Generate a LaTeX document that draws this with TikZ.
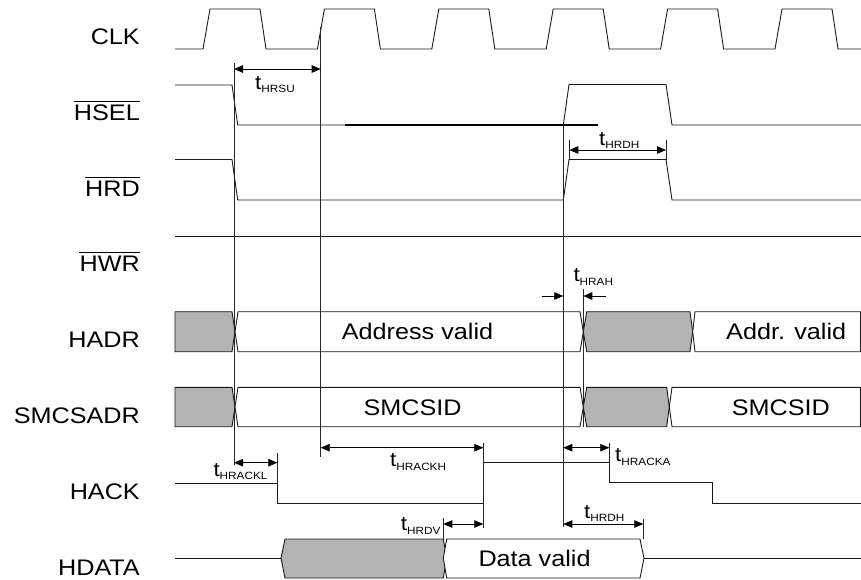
\documentclass[tikz,border=0pt]{standalone}
\usepackage{fontspec}
\setmainfont[FakeStretch=1.12]{Liberation Sans}
\usetikzlibrary{arrows.meta}
\definecolor{boxgray}{RGB}{179,179,179}
\newcommand{\tsub}[1]{{\fontsize{20}{20}\selectfont t}\raisebox{-3.5pt}{\fontsize{10.5}{11}\selectfont #1}}
\tikzset{
 wave/.style={line width=0.9pt, draw=black!90, line join=miter},
 guide/.style={line width=0.8pt, draw=black!85},
 dim/.style={line width=0.8pt, {Triangle[length=9pt,width=7.5pt]}-{Triangle[length=9pt,width=7.5pt]}},
 sarrow/.style={line width=0.8pt, -{Triangle[length=9pt,width=7.5pt]}},
 siglabel/.style={anchor=base east, inner sep=0pt, font=\fontsize{22.5}{26}\selectfont},
 boxtext/.style={anchor=base west, inner sep=0pt, font=\fontsize{22.5}{26}\selectfont},
 tlabel/.style={anchor=base west, inner sep=0pt},
 graybus/.style={wave, fill=boxgray},
 whitebus/.style={wave, fill=white},
 bar/.style={line width=0.8pt}
}
\begin{document}
\begin{tikzpicture}[x=1pt,y=-1pt]
\useasboundingbox (0,0) rectangle (861,579);

% ---------- signal names ----------
\node[siglabel] (lclk)  at (140,44)    {CLK};
\node[siglabel] (lhsel) at (140,120)   {HSEL};
\node[siglabel] (lhrd)  at (140,196)   {HRD};
\node[siglabel] (lhwr)  at (140,271)   {HWR};
\node[siglabel] (lhadr) at (140,347.7) {HADR};
\node[siglabel] (lsmc)  at (140,423.3) {SMCSADR};
\node[siglabel] (lhack) at (140,499.3) {HACK};
\node[siglabel] (lhdat) at (140,575)   {HDATA};
\draw[bar] ([yshift=2.5pt]lhsel.north west) -- ([yshift=2.5pt]lhsel.north east);
\draw[bar] ([yshift=2.5pt]lhrd.north west) -- ([yshift=2.5pt]lhrd.north east);
\draw[bar] ([yshift=2.5pt]lhwr.north west) -- ([yshift=2.5pt]lhwr.north east);

% ---------- CLK ----------
\draw[wave] (175,49) -- (203,49) -- (210,9) -- (260,9) -- (266,49)
 -- (317.4,49) -- (324.4,9) -- (374.4,9) -- (380.4,49)
 -- (431.8,49) -- (438.8,9) -- (488.8,9) -- (494.8,49)
 -- (546.2,49) -- (553.2,9) -- (603.2,9) -- (609.2,49)
 -- (660.6,49) -- (667.6,9) -- (717.6,9) -- (723.6,49)
 -- (775,49) -- (782,9) -- (832,9) -- (838,49) -- (861,49);

% ---------- HSEL ----------
\draw[wave] (175,85) -- (232,85) -- (237.7,125) -- (563.3,125) -- (569,84.5)
 -- (666,84.5) -- (672,125) -- (861,125);
\draw[line width=1.4pt] (345,125) -- (598,125);

% ---------- HRD ----------
\draw[wave] (175,159.5) -- (232,159.5) -- (237.7,200) -- (563.3,200) -- (569,159.5)
 -- (666,159.5) -- (672,200) -- (861,200);

% ---------- HWR ----------
\draw[wave] (175,236) -- (861,236);

% ---------- HADR ----------
\draw[graybus] (175,311.7) -- (232,311.7) -- (235,331.7) -- (232,351.7) -- (175,351.7) -- cycle;
\draw[whitebus] (238,311.7) -- (580,311.7) -- (583.3,331.7) -- (580,351.7) -- (238,351.7) -- (235,331.7) -- cycle;
\draw[graybus] (586.7,311.7) -- (690,311.7) -- (692.7,331.7) -- (690,351.7) -- (586.7,351.7) -- (583.3,331.7) -- cycle;
\draw[whitebus] (695,311.7) -- (860.5,311.7) -- (860.5,351.7) -- (695,351.7) -- (692.7,331.7) -- cycle;
\node[boxtext] (tadr1) at (341.7,339) {Address valid};
\node[boxtext] (tadr2) at (726,339) {Addr. valid};

% ---------- SMCSADR ----------
\draw[graybus] (175,387.3) -- (232,387.3) -- (235,407) -- (232,426.7) -- (175,426.7) -- cycle;
\draw[whitebus] (238,387.3) -- (580,387.3) -- (583.3,407) -- (580,426.7) -- (238,426.7) -- (235,407) -- cycle;
\draw[graybus] (586.7,387.3) -- (666.7,387.3) -- (669.3,407) -- (666.7,426.7) -- (586.7,426.7) -- (583.3,407) -- cycle;
\draw[whitebus] (672,387.3) -- (860.5,387.3) -- (860.5,426.7) -- (672,426.7) -- (669.3,407) -- cycle;
\node[boxtext] (tsmc1) at (363.3,415) {SMCSID};
\node[boxtext] (tsmc2) at (731.7,415) {SMCSID};

% ---------- HACK ----------
\draw[wave] (175,483.3) -- (277.3,483.3) -- (277.3,503.3) -- (483.3,503.3) -- (483.3,462.7)
 -- (609.3,462.7) -- (609.3,482.7) -- (712.3,482.7) -- (712.3,503.3) -- (861,503.3);

% ---------- HDATA ----------
\draw[wave] (175,558.3) -- (281,558.3);
\draw[graybus] (285,539) -- (443.3,539) -- (446.7,558.3) -- (443.3,578) -- (285,578) -- (281,558.3) -- cycle;
\draw[whitebus] (446.7,539) -- (640,539) -- (644,558.3) -- (640,578) -- (446.7,578) -- (443.3,558.3) -- cycle;
\draw[wave] (644,558.3) -- (861,558.3);
\node[boxtext] (tdat) at (478.3,566.7) {Data valid};

% ---------- guide lines ----------
\coordinate (g1t) at (234,63);    \coordinate (g1b) at (234,465);
\coordinate (g2t) at (320.7,27);  \coordinate (g2b) at (320.7,457);
\coordinate (g3t) at (563.3,125); \coordinate (g3b) at (563.3,527);
\coordinate (g4t) at (583.3,289); \coordinate (g4b) at (583.3,426.7);
\coordinate (g5t) at (483.3,443); \coordinate (g5b) at (483.3,528);
\coordinate (g6t) at (569.3,140); \coordinate (g6b) at (569.3,159.5);
\coordinate (g7t) at (666,140);   \coordinate (g7b) at (666,159.5);
\coordinate (g8t) at (277.3,453); \coordinate (g8b) at (277.3,483.3);
\coordinate (g9t) at (609.3,442.7); \coordinate (g9b) at (609.3,462.7);
\coordinate (g10t) at (443.3,518); \coordinate (g10b) at (443.3,539);
\coordinate (g11t) at (643.3,519); \coordinate (g11b) at (643.3,539);
\foreach \g in {1,...,11} \draw[guide] (g\g t) -- (g\g b);

% ---------- timing arrows ----------
\coordinate (a1) at (234,69);     \coordinate (b1) at (320.7,69);
\coordinate (a2) at (569.3,150);  \coordinate (b2) at (666,150);
\coordinate (a3) at (234,462.7);  \coordinate (b3) at (277.3,462.7);
\coordinate (a4) at (320.7,447.7); \coordinate (b4) at (483.3,447.7);
\coordinate (a5) at (443.3,524);  \coordinate (b5) at (483.3,524);
\coordinate (a6) at (563.3,447.7); \coordinate (b6) at (609.3,447.7);
\coordinate (a7) at (563.3,524);  \coordinate (b7) at (643.3,524);
\foreach \g in {1,...,7} \draw[dim] (a\g) -- (b\g);
\coordinate (h1) at (541.7,296);  \coordinate (h2) at (606,296);
\draw[sarrow] (h1) -- (g3t |- h1);
\draw[sarrow] (h2) -- (g4t |- h2);

% ---------- timing labels ----------
\node[tlabel] (lhrsu)  at (255,89)     {\tsub{HRSU}};
\node[tlabel] (lhrdh1) at (599,145)    {\tsub{HRDH}};
\node[tlabel] (lhrah)  at (573.3,281.7) {\tsub{HRAH}};
\node[tlabel] (lhrackl) at (213.3,476) {\tsub{HRACKL}};
\node[tlabel] (lhrackh) at (390,466.7) {\tsub{HRACKH}};
\node[tlabel] (lhrdv)  at (400.7,530.7) {\tsub{HRDV}};
\node[tlabel] (lhracka) at (615,461.7) {\tsub{HRACKA}};
\node[tlabel] (lhrdh2) at (584,518.3)  {\tsub{HRDH}};
\end{tikzpicture}
\end{document}
